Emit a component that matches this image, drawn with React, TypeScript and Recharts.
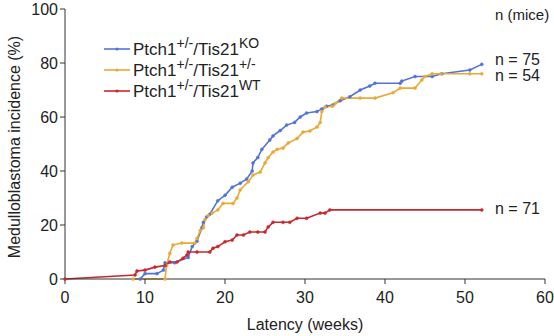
import { LineChart, Line, XAxis, YAxis } from "recharts";

// Kaplan–Meier style cumulative incidence
const koData = [
  { week: 9.4, pct: 0 }, { week: 10, pct: 2 }, { week: 11.5, pct: 2 }, { week: 12.3, pct: 3.3 },
  { week: 12.5, pct: 6 }, { week: 13.7, pct: 6 }, { week: 15.4, pct: 8 }, { week: 15.9, pct: 12 },
  { week: 16.5, pct: 14 }, { week: 17.1, pct: 19 }, { week: 17.3, pct: 21 }, { week: 17.7, pct: 23 },
  { week: 18.1, pct: 24 }, { week: 19.1, pct: 29 }, { week: 20, pct: 31 }, { week: 20.9, pct: 34 },
  { week: 21.9, pct: 35.5 }, { week: 22.7, pct: 37 }, { week: 23.4, pct: 40 }, { week: 23.5, pct: 43 },
  { week: 24.1, pct: 45 }, { week: 24.6, pct: 48 }, { week: 25.6, pct: 51.5 }, { week: 26, pct: 53 },
  { week: 26.9, pct: 55 }, { week: 27.7, pct: 57 }, { week: 28.7, pct: 58 }, { week: 29.4, pct: 60 },
  { week: 30.2, pct: 61.5 }, { week: 31.5, pct: 62 }, { week: 32.1, pct: 63 }, { week: 32.7, pct: 64 },
  { week: 33.5, pct: 64.5 }, { week: 34.4, pct: 66 }, { week: 35.6, pct: 67.5 }, { week: 36.9, pct: 70 },
  { week: 38.1, pct: 71.5 }, { week: 38.75, pct: 72.5 }, { week: 41.9, pct: 72.5 }, { week: 42.1, pct: 73.3 },
  { week: 43.75, pct: 75 }, { week: 45.9, pct: 75 }, { week: 47.1, pct: 76 }, { week: 50.6, pct: 77.4 },
  { week: 52.1, pct: 79.5 },
];

const hetData = [
  { week: 8.5, pct: 0 }, { week: 12.5, pct: 0 }, { week: 12.7, pct: 5 }, { week: 13.1, pct: 9.5 },
  { week: 13.5, pct: 12.6 }, { week: 14.6, pct: 13.3 }, { week: 16.25, pct: 13.3 }, { week: 16.5, pct: 15 },
  { week: 16.9, pct: 18 }, { week: 17.3, pct: 19 }, { week: 17.5, pct: 22 }, { week: 17.9, pct: 23.5 },
  { week: 18.4, pct: 24.4 }, { week: 19.1, pct: 25.6 }, { week: 19.75, pct: 28 }, { week: 21, pct: 28 },
  { week: 21.5, pct: 30 }, { week: 21.9, pct: 33 }, { week: 22.9, pct: 36 }, { week: 23.5, pct: 38.5 },
  { week: 24.4, pct: 39.6 }, { week: 25, pct: 43 }, { week: 25.4, pct: 45 }, { week: 26, pct: 47 },
  { week: 26.5, pct: 48 }, { week: 27.25, pct: 48.5 }, { week: 27.9, pct: 50.4 }, { week: 29, pct: 52 },
  { week: 29.75, pct: 54.4 }, { week: 30.6, pct: 54.8 }, { week: 31.5, pct: 56.3 }, { week: 31.9, pct: 58 },
  { week: 32.1, pct: 62 }, { week: 32.5, pct: 63.7 }, { week: 33.4, pct: 64 }, { week: 33.75, pct: 65 },
  { week: 34.6, pct: 67 }, { week: 36.9, pct: 67 }, { week: 38.75, pct: 67 }, { week: 41, pct: 69 },
  { week: 41.9, pct: 70.7 }, { week: 43.75, pct: 70.7 }, { week: 44.6, pct: 73.7 }, { week: 45, pct: 75 },
  { week: 45.9, pct: 76 }, { week: 47, pct: 76 }, { week: 50.6, pct: 76 }, { week: 52.1, pct: 76 },
];

const wtData = [
  { week: 0, pct: 0 }, { week: 8.75, pct: 1.5 }, { week: 9, pct: 3 }, { week: 10, pct: 3.3 },
  { week: 11.25, pct: 4.4 }, { week: 12.5, pct: 5 }, { week: 13.1, pct: 6.3 }, { week: 14, pct: 6.3 },
  { week: 14.75, pct: 7.7 }, { week: 15.25, pct: 8.9 }, { week: 15.4, pct: 10 }, { week: 16.5, pct: 10 },
  { week: 18.1, pct: 10 }, { week: 18.5, pct: 11.4 }, { week: 19.1, pct: 12 }, { week: 20, pct: 13.8 },
  { week: 20.9, pct: 14.4 }, { week: 21.5, pct: 16.3 }, { week: 22.3, pct: 16.3 }, { week: 23.1, pct: 17.4 },
  { week: 24.1, pct: 17.4 }, { week: 25, pct: 17.4 }, { week: 25.4, pct: 19.3 }, { week: 26, pct: 21 },
  { week: 27.25, pct: 21 }, { week: 28.1, pct: 21 }, { week: 29, pct: 22.5 }, { week: 30.2, pct: 22.5 },
  { week: 31.9, pct: 24.4 }, { week: 32.5, pct: 24.4 }, { week: 33.1, pct: 25.6 }, { week: 52.1, pct: 25.6 },
];

const xTicks = [0, 10, 20, 30, 40, 50, 60];
const yTicks = [0, 20, 40, 60, 80, 100];

const series = [
  { key: "ko", data: koData, color: "#5274d6", sup: "KO", n: "n = 75" },
  { key: "het", data: hetData, color: "#e9a935", sup: "+/-", n: "n = 54" },
  { key: "wt", data: wtData, color: "#c8282e", sup: "WT", n: "n = 71" },
];

const FONT = '"Liberation Sans", Arial, Helvetica, sans-serif';
const AXIS = "#333";

export default function App() {
  return (
    <div style={{ position: "absolute", left: 0, top: 0, width: 554, height: 336, background: "#fff", fontFamily: FONT }}>
      <LineChart width={554} height={336} margin={{ top: 9, right: 9, bottom: 0, left: 0 }}>
        <XAxis
          type="number"
          dataKey="week"
          domain={[0, 60]}
          ticks={xTicks}
          height={57}
          stroke={AXIS}
          tickSize={5}
          tick={{ fontSize: 16, fill: "#222", fontFamily: FONT }}
          tickMargin={8}
          label={{ value: "Latency (weeks)", position: "insideBottom", offset: 6, fontSize: 16, fill: "#222", fontFamily: FONT }}
          allowDuplicatedCategory={false}
        />
        <YAxis
          type="number"
          dataKey="pct"
          domain={[0, 100]}
          ticks={yTicks}
          width={65}
          stroke={AXIS}
          tickSize={5}
          tick={{ fontSize: 16, fill: "#222", fontFamily: FONT }}
          tickMargin={2}
        />
        {series.map((s) => (
          <Line
            key={s.key}
            data={s.data}
            dataKey="pct"
            type="linear"
            stroke={s.color}
            strokeWidth={1.6}
            dot={{ r: 1.5, fill: s.color, stroke: s.color, strokeWidth: 0.5 }}
            isAnimationActive={false}
          />
        ))}
      </LineChart>

      <div
        style={{
          position: "absolute",
          left: 15,
          top: 147,
          transform: "translate(-50%, -50%) rotate(-90deg)",
          whiteSpace: "nowrap",
          fontSize: 16,
          color: "#222",
        }}
      >
        Medulloblastoma incidence (%)
      </div>

      {/* legend */}
      <div style={{ position: "absolute", left: 104, top: 36, fontSize: 17, color: "#222", lineHeight: "21px" }}>
        {series.map((s) => (
          <div key={s.key} style={{ display: "flex", alignItems: "center", height: 21 }}>
            <svg width={26} height={10} style={{ marginRight: 3, marginTop: 4 }}>
              <line x1={0} y1={5} x2={26} y2={5} stroke={s.color} strokeWidth={1.6} />
              <circle cx={13} cy={5} r={1.6} fill={s.color} />
            </svg>
            <span>
              Ptch1<sup style={{ fontSize: 14, verticalAlign: "7px" }}>+/-</sup>/Tis21
              <sup style={{ fontSize: 14, verticalAlign: "7px" }}>{s.sup}</sup>
            </span>
          </div>
        ))}
      </div>

      {/* n labels */}
      <div style={{ position: "absolute", left: 495, top: 6, fontSize: 15, color: "#222" }}>n (mice)</div>
      <div style={{ position: "absolute", left: 495, top: 51, fontSize: 16, color: "#222" }}>{series[0].n}</div>
      <div style={{ position: "absolute", left: 495, top: 67, fontSize: 16, color: "#222" }}>{series[1].n}</div>
      <div style={{ position: "absolute", left: 495, top: 200, fontSize: 16, color: "#222" }}>{series[2].n}</div>
    </div>
  );
}
